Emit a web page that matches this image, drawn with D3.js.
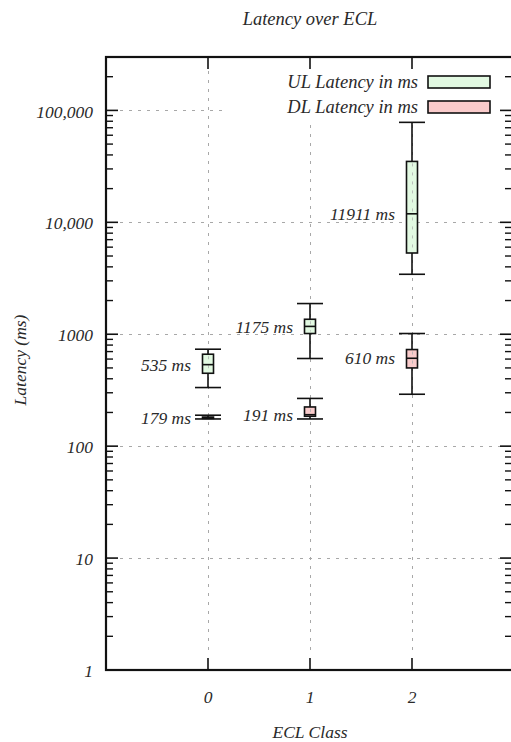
<!DOCTYPE html>
<html>
<head>
<meta charset="utf-8">
<script src="https://cdn.jsdelivr.net/npm/d3@7"></script>
<style>
  html, body { margin: 0; padding: 0; background: #fff; }
  svg text { font-family: "Liberation Serif", "DejaVu Serif", serif; font-style: italic; fill: #2a2a2a; }
</style>
</head>
<body>
<svg id="chart" width="511" height="742"></svg>
<script>
// ECL classes on the x axis
const categories = [0, 1, 2];

// Uplink latency box statistics (ms)
const ulLow    = [334, 607, 3434];
const ulQ1     = [448, 1015, 5320];
const ulMedian = [535, 1175, 11911];
const ulQ3     = [663, 1361, 35000];
const ulHigh   = [735, 1880, 78200];

// Downlink latency box statistics (ms)
const dlLow    = [175, 175, 291];
const dlQ1     = [177, 185, 500];
const dlMedian = [179, 191, 610];
const dlQ3     = [182, 224, 730];
const dlHigh   = [189, 267, 1015];

// Axis ticks
const yTickValues = [1, 10, 100, 1000, 10000, 100000];
const yTickLabels = ["1", "10", "100", "1000", "10,000", "100,000"];
const xTickLabels = ["0", "1", "2"];

const seriesNames = ["UL Latency in ms", "DL Latency in ms"];

const svg = d3.select("#chart");
const plot = { left: 106, right: 514, top: 57, bottom: 670 };

const x = d3.scaleLinear().domain([-1, 3]).range([plot.left, plot.right]);
const y = d3.scaleLog().domain([1, 300000]).range([plot.bottom, plot.top]);

const series = [
  { name: seriesNames[0], fill: "#e2f9e2", low: ulLow, q1: ulQ1, med: ulMedian, q3: ulQ3, high: ulHigh },
  { name: seriesNames[1], fill: "#f9cbcb", low: dlLow, q1: dlQ1, med: dlMedian, q3: dlQ3, high: dlHigh }
];

const numFont = 17.5, wordFont = 18.5;

// Dashed grid at major ticks
const grid = svg.append("g").attr("stroke", "#a8a8a8").attr("stroke-width", 1)
  .attr("stroke-dasharray", "3,6");
yTickValues.slice(1).forEach(v => {
  grid.append("line").attr("x1", plot.left + 14).attr("x2", plot.right - 14)
    .attr("y1", Math.round(y(v)) + 0.5).attr("y2", Math.round(y(v)) + 0.5);
});
categories.forEach(c => {
  grid.append("line").attr("x1", Math.round(x(c)) + 0.5).attr("x2", Math.round(x(c)) + 0.5)
    .attr("y1", plot.top + 14).attr("y2", plot.bottom - 14);
});

// Legend background hides the grid behind it
svg.append("rect").attr("x", 226).attr("y", 66).attr("width", 274).attr("height", 54).attr("fill", "#fff");

// Box plots
const boxW = 11, capW = 26, sw = 1.6;
series.forEach(s => {
  const g = svg.append("g");
  categories.forEach((c, i) => {
    const cx = x(c);
    const line = (x1, x2, y1, y2) => g.append("line")
      .attr("x1", x1).attr("x2", x2).attr("y1", y1).attr("y2", y2)
      .attr("stroke", "#111").attr("stroke-width", sw);
    line(cx, cx, y(s.high[i]), y(s.q3[i]));
    line(cx, cx, y(s.q1[i]), y(s.low[i]));
    line(cx - capW / 2, cx + capW / 2, y(s.high[i]), y(s.high[i]));
    line(cx - capW / 2, cx + capW / 2, y(s.low[i]), y(s.low[i]));
    g.append("rect").attr("x", cx - boxW / 2).attr("width", boxW)
      .attr("y", y(s.q3[i])).attr("height", y(s.q1[i]) - y(s.q3[i]))
      .attr("fill", s.fill).attr("stroke", "#111").attr("stroke-width", sw);
    // grid line faintly visible through the box
    if (y(s.q1[i]) - y(s.q3[i]) > 6) {
      g.append("line").attr("x1", Math.round(cx) + 0.5).attr("x2", Math.round(cx) + 0.5)
        .attr("y1", y(s.q3[i]) + 2).attr("y2", y(s.q1[i]) - 2)
        .attr("stroke", "#b0b0b0").attr("stroke-dasharray", "3,6").attr("stroke-opacity", 0.8);
    }
    line(cx - boxW / 2, cx + boxW / 2, y(s.med[i]), y(s.med[i]));
    // median label
    g.append("text").attr("x", cx - 17).attr("y", y(s.med[i])).attr("dy", "0.35em")
      .attr("text-anchor", "end").attr("font-size", numFont)
      .text(s.med[i] + " ms");
  });
});

// Legend
const legend = svg.append("g");
series.forEach((s, i) => {
  const ly = 82 + i * 25;
  legend.append("text").attr("x", 418).attr("y", ly).attr("dy", "0.35em")
    .attr("text-anchor", "end").attr("font-size", wordFont).text(s.name);
  legend.append("rect").attr("x", 428).attr("y", ly - 6).attr("width", 62).attr("height", 12)
    .attr("fill", s.fill).attr("stroke", "#111").attr("stroke-width", sw);
});

// Axes: left and right with log minor ticks, top and bottom with category ticks
const minorTicks = [];
for (let d = 1; d < 300000; d *= 10) {
  for (let k = 2; k <= 9; k++) if (d * k <= 300000) minorTicks.push(d * k);
}
const axisG = svg.append("g").attr("stroke", "#111");
yTickValues.forEach(v => {
  const yy = y(v);
  axisG.append("line").attr("x1", plot.left).attr("x2", plot.left + 12).attr("y1", yy).attr("y2", yy).attr("stroke-width", 1.6);
  axisG.append("line").attr("x1", plot.right).attr("x2", plot.right - 14).attr("y1", yy).attr("y2", yy).attr("stroke-width", 1.6);
});
minorTicks.forEach(v => {
  const yy = y(v);
  axisG.append("line").attr("x1", plot.left).attr("x2", plot.left + 7).attr("y1", yy).attr("y2", yy).attr("stroke-width", 1.4);
  axisG.append("line").attr("x1", plot.right).attr("x2", plot.right - 9).attr("y1", yy).attr("y2", yy).attr("stroke-width", 1.4);
});
categories.forEach(c => {
  const xx = x(c);
  axisG.append("line").attr("x1", xx).attr("x2", xx).attr("y1", plot.bottom).attr("y2", plot.bottom - 12).attr("stroke-width", 1.6);
  axisG.append("line").attr("x1", xx).attr("x2", xx).attr("y1", plot.top).attr("y2", plot.top + 12).attr("stroke-width", 1.6);
});
svg.append("rect").attr("x", plot.left).attr("y", plot.top)
  .attr("width", plot.right - plot.left).attr("height", plot.bottom - plot.top)
  .attr("fill", "none").attr("stroke", "#111").attr("stroke-width", 2.2);

// Tick labels
yTickValues.forEach((v, i) => {
  svg.append("text").attr("x", 93).attr("y", y(v) + 1).attr("dy", "0.35em")
    .attr("text-anchor", "end").attr("font-size", numFont).text(yTickLabels[i]);
});
categories.forEach((c, i) => {
  svg.append("text").attr("x", x(c)).attr("y", 697).attr("dy", "0.35em")
    .attr("text-anchor", "middle").attr("font-size", numFont).text(xTickLabels[i]);
});

// Titles
svg.append("text").attr("x", 310).attr("y", 19).attr("dy", "0.35em")
  .attr("text-anchor", "middle").attr("font-size", wordFont).text("Latency over ECL");
svg.append("text").attr("x", 310).attr("y", 732).attr("dy", "0.35em")
  .attr("text-anchor", "middle").attr("font-size", 17.5).text("ECL Class");
svg.append("text").attr("transform", "translate(20,360) rotate(-90)").attr("dy", "0.35em")
  .attr("text-anchor", "middle").attr("font-size", numFont).text("Latency (ms)");
</script>
</body>
</html>
